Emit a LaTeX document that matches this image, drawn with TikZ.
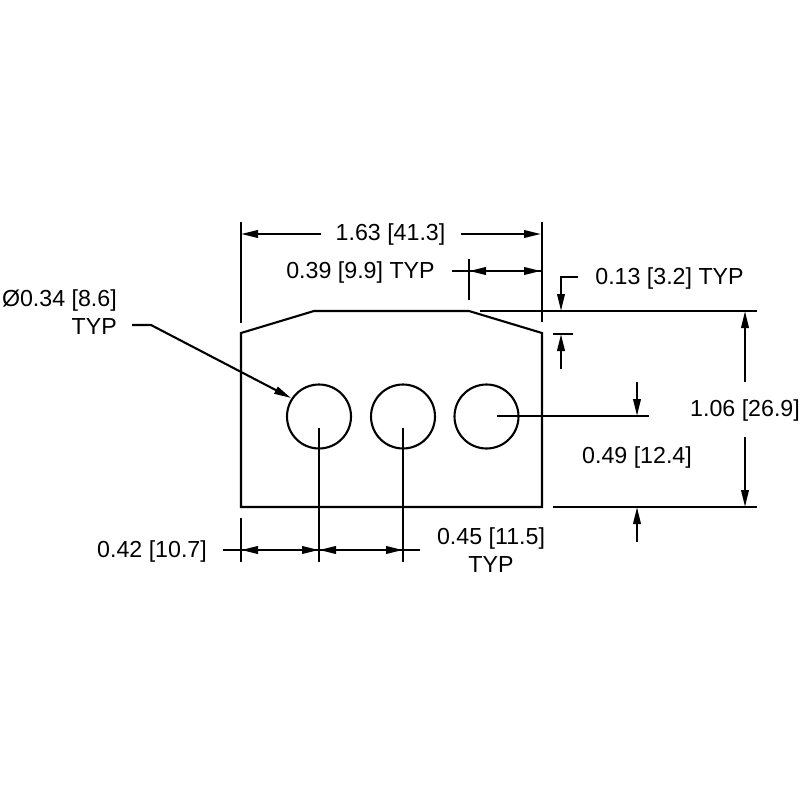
\documentclass[tikz,border=0pt]{standalone}
\usepackage{fontspec}
\setmainfont{Liberation Sans}
\usetikzlibrary{arrows.meta}
\newcommand{\linew}{2.1pt}
\tikzset{
    dimline/.style = {line width = \linew, -{Stealth[inset=0pt,length=17pt,width=7.5pt]}},
    dimboth/.style = {line width = \linew, {Stealth[inset=0pt,length=17pt,width=7.5pt]}-{Stealth[inset=0pt,length=17pt,width=7.5pt]}},
    plainline/.style = {line width = \linew},
    hole/.style = {circle, draw, line width = \linew, minimum size = 64pt, inner sep = 0pt},
    dimtext/.style = {font = \fontsize{23.2}{28}\selectfont, inner sep = 0pt, align = center}
}

\begin{document}
\begin{tikzpicture}[x=1pt,y=-1pt]
    \useasboundingbox (0,0) rectangle (800,800);
    \foreach\a/\x/\y in {bl/241/507, cl/241/333, tl/314/311, tr/469/311, cr/542/333, br/542/507,
        wl/241/222, wlb/241/323, wr/542/222, wrb/542/322,
        ar/241/234, al/321/234, bl2/461/234, br2/541/234,
        ts/452/271, tm/469/271, te/541/271, tt/469/259, tb/469/300,
        ga/578/277, gb/561/277, gc/561/311, ha/480/311, hb/757/311,
        ja/553/334, jb/573/334, jc/561/369, jd/561/334,
        ka/649/416, kb/497/416, kc/637/382, kd/637/416,
        la/553/507, lb/757/507, lc/637/542, ld/637/507,
        ma/745/382, mb/745/311, mc/745/437, md/745/507,
        na/241/518, nb/241/562, oa/319/428, ob/319/562, pa/403/428, pb/403/562,
        qa/223/550, qb/241/550, qc/319/550, qd/403/550, qe/420/550,
        ua/132/325, ub/151/325, uc/291/398} {
        \coordinate (\a) at (\x,\y);
    }

    % part outline and holes
    \draw[plainline] (bl) -- (cl) -- (tl) -- (tr) -- (cr) -- (br) -- cycle;
    \node[hole] (h1) at (319,416.5) {};
    \node[hole] (h2) at (403,416.5) {};
    \node[hole] (h3) at (486.5,416.5) {};

    % extension lines
    \foreach\a/\b in {wl/wlb, wr/wrb, ts/te, tt/tb, ha/hb, ja/jb, la/lb, na/nb, oa/ob, pa/pb, qa/qe, kb/ka} {
        \draw[plainline] (\a) -- (\b);
    }

    % arrows
    \foreach\a/\b in {al/ar, bl2/br2, jc/jd, kc/kd, lc/ld, ma/mb, mc/md} {
        \draw[dimline] (\a) -- (\b);
    }
    \foreach\a/\b in {tm/te, qb/qc, qc/qd} {
        \draw[dimboth] (\a) -- (\b);
    }
    \draw[dimline] (ga) -- (gb) -- (gc);
    \draw[dimline] (ua) -- (ub) -- (uc);

    % labels
    \node[dimtext] (overall) at (390.5,234) {1.63 [41.3]};
    \node[dimtext] (chamferw) at (360.5,272.5) {0.39 [9.9] TYP};
    \node[dimtext] (chamferh) at (669.5,278.5) {0.13 [3.2] TYP};
    \node[dimtext] (height) at (745,410.5) {1.06 [26.9]};
    \node[dimtext] (holey) at (637,457.5) {0.49 [12.4]};
    \node[dimtext] (holex) at (152,551.5) {0.42 [10.7]};
    \node[dimtext] (pitch) at (491,550) {0.45 [11.5]\\TYP};
    \node[dimtext, align=right, anchor=east] (holedia) at (117,312.5) {Ø0.34 [8.6]\\TYP};
\end{tikzpicture}
\end{document}
